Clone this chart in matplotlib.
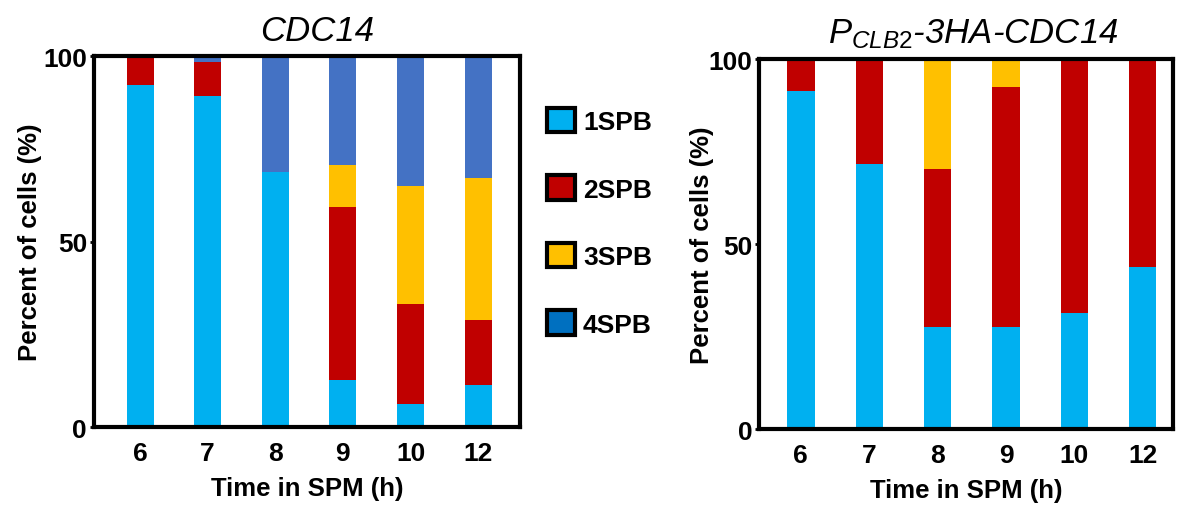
import numpy as np
import matplotlib.pyplot as plt
from matplotlib.patches import Patch

plt.rcParams['font.family'] = ['Liberation Sans', 'DejaVu Sans']
plt.rcParams['mathtext.fontset'] = 'custom'
plt.rcParams['mathtext.it'] = 'Liberation Sans:italic'
plt.rcParams['mathtext.rm'] = 'Liberation Sans'

times = ['6', '7', '8', '9', '10', '12']
labels = ['1SPB', '2SPB', '3SPB', '4SPB']
colors = ['#00B0F0', '#C00000', '#FFC000', '#4472C4']
legend_colors = ['#00B0F0', '#C00000', '#FFC000', '#0070C0']

# CDC14
wt_1spb = [92.3, 89.3, 68.9, 12.6, 6.1, 11.3]
wt_2spb = [7.7, 9.1, 0.0, 46.7, 27.2, 17.7]
wt_3spb = [0.0, 0.0, 0.0, 11.4, 31.7, 38.2]
wt_4spb = [0.0, 1.6, 31.1, 29.3, 35.0, 32.8]

# PCLB2-3HA-CDC14
mut_1spb = [91.3, 71.6, 27.7, 27.7, 31.4, 43.8]
mut_2spb = [8.7, 28.4, 42.7, 64.8, 68.6, 56.2]
mut_3spb = [0.0, 0.0, 29.6, 7.5, 0.0, 0.0]
mut_4spb = [0.0, 0.0, 0.0, 0.0, 0.0, 0.0]

fig = plt.figure(figsize=(11.77, 5.06), dpi=100)
ax1 = fig.add_axes([0.0799, 0.154, 0.362, 0.733])
ax2 = fig.add_axes([0.645, 0.150, 0.352, 0.731])


def draw(ax, series, title, xlim, ylab_x, title_x):
    x = np.arange(len(times))
    bottom = np.zeros(len(times))
    for vals, c in zip(series, colors):
        ax.bar(x, vals, width=0.4, bottom=bottom, color=c, edgecolor='none')
        bottom += np.array(vals)
    ax.set_xlim(*xlim)
    ax.set_ylim(0, 100)
    ax.set_yticks([0, 50, 100])
    ax.set_xticks(x)
    ax.set_xticklabels(times)
    for s in ax.spines.values():
        s.set_linewidth(3)
    ax.tick_params(axis='x', length=0, pad=10)
    ax.tick_params(axis='y', length=3, width=2, pad=2)
    for t in ax.get_xticklabels() + ax.get_yticklabels():
        t.set_fontsize(19)
        t.set_fontweight('bold')
    ax.set_xlabel('Time in SPM (h)', fontsize=18.5, fontweight='bold', labelpad=8)
    ax.set_ylabel('Percent of cells (%)', fontsize=18.5, fontweight='bold')
    ax.yaxis.set_label_coords(ylab_x, 0.5)
    ax.set_title(title, fontsize=25, fontstyle='italic', pad=12, x=title_x)


draw(ax1, [wt_1spb, wt_2spb, wt_3spb, wt_4spb], 'CDC14',
     (-0.68, 5.62), -0.122, 0.5235)
draw(ax2, [mut_1spb, mut_2spb, mut_3spb, mut_4spb],
     r'$P_{CLB2}$-3HA-CDC14', (-0.61, 5.45), -0.109, 0.517)

handles = [Patch(facecolor=c, edgecolor='black', linewidth=3) for c in legend_colors]
leg = fig.legend(handles, labels, loc='upper left', bbox_to_anchor=(0.4446, 0.832),
                 frameon=False, handlelength=1.06, handleheight=1.06,
                 labelspacing=1.56, handletextpad=0.3,
                 prop={'size': 19, 'weight': 'bold'})

fig.savefig('out.png', dpi=100)
